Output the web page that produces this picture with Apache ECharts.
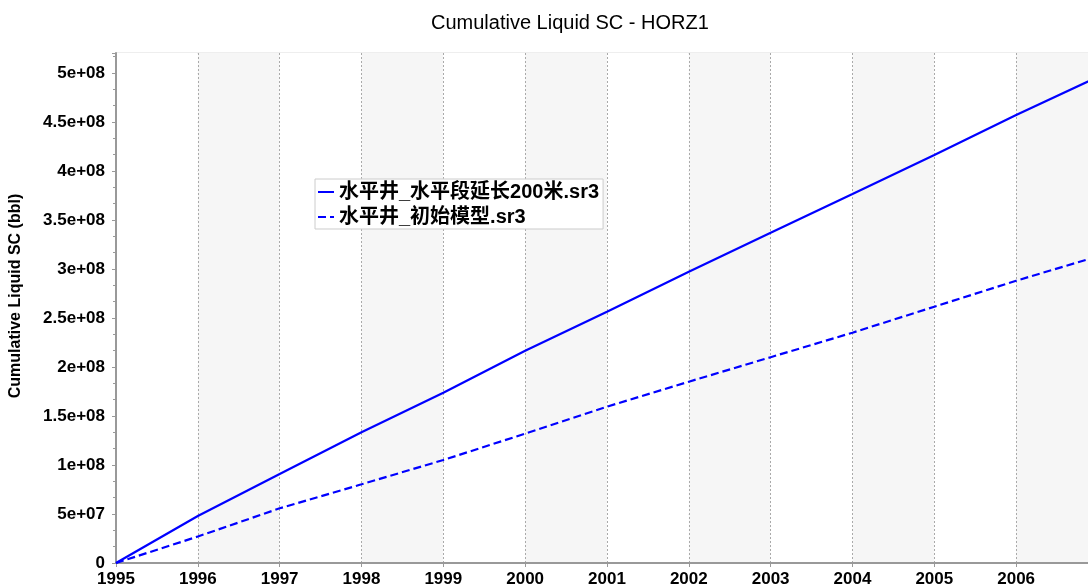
<!DOCTYPE html>
<html>
<head>
<meta charset="utf-8">
<script src="https://cdn.jsdelivr.net/npm/echarts@6/dist/echarts.min.js"></script>
<style>
html,body{margin:0;padding:0;background:#fff;}
#chart{width:1088px;height:588px;}
</style>
</head>
<body>
<div id="chart"></div>
<script>
const titleText = 'Cumulative Liquid SC - HORZ1';
const yAxisName = 'Cumulative Liquid SC (bbl)';
const seriesNames = ['水平井_水平段延长200米.sr3', '水平井_初始模型.sr3'];
const years = [1995, 1996, 1997, 1998, 1999, 2000, 2001, 2002, 2003, 2004, 2005, 2006, 2007];
const extended200m = [0, 4.8e7, 9.08e7, 1.334e8, 1.738e8, 2.166e8, 2.564e8, 2.973e8, 3.37e8, 3.765e8, 4.163e8, 4.571e8, 4.96e8];
const baseModel = [0, 2.7e7, 5.58e7, 8.03e7, 1.051e8, 1.32e8, 1.595e8, 1.85e8, 2.1e8, 2.35e8, 2.615e8, 2.88e8, 3.13e8];
const xMin = 1995, xMax = 2006.878, yMin = 0, yMax = 5.204e8, yStep = 5e7;

const chart = echarts.init(document.getElementById('chart'), null, {renderer: 'canvas'});
const font = 'Liberation Sans, Arial, Noto Sans CJK SC, sans-serif';

function fmtY(v) {
  if (v === 0) return '0';
  if (Math.abs(v / yStep - Math.round(v / yStep)) > 1e-6) return '';
  return v.toExponential().replace(/e([+-])(\d)$/, 'e$10$2');
}
function fmtX(v) {
  return Math.abs(v - Math.round(v)) < 1e-6 ? String(Math.round(v)) : '';
}

const hiddenSymbol = {color: 'rgba(0,0,0,0)', borderColor: 'rgba(0,0,0,0)', borderWidth: 0};

const option = {
  backgroundColor: '#ffffff',
  animation: false,
  title: {
    text: titleText,
    left: 426, top: 8,
    textStyle: {fontFamily: font, fontSize: 20, fontWeight: 'normal', color: '#000'}
  },
  grid: {left: 114, right: 0, top: 53, bottom: 25, show: true, borderColor: '#dddddd', borderWidth: 1, backgroundColor: 'transparent'},
  legend: {
    orient: 'vertical',
    left: 315, top: 179,
    backgroundColor: '#ffffff',
    borderColor: '#cccccc', borderWidth: 1,
    padding: [3, 4, 2, 2],
    itemWidth: 16, itemHeight: 14, itemGap: 5,
    itemStyle: hiddenSymbol,
    textStyle: {fontFamily: font, fontSize: 20, fontWeight: 'bold', color: '#000'},
    data: seriesNames
  },
  xAxis: {
    type: 'value', min: xMin, max: xMax, interval: 1,
    axisLine: {show: true, lineStyle: {color: '#999', width: 2}},
    axisTick: {show: true, length: 4, lineStyle: {color: '#999'}},
    axisLabel: {formatter: fmtX, fontFamily: font, fontSize: 17, fontWeight: 'bold', color: '#000', margin: 8, showMaxLabel: false},
    splitLine: {show: true, lineStyle: {color: '#aaaaaa', type: [2, 2], width: 1}},
    splitArea: {show: true, areaStyle: {color: ['#ffffff', '#f6f6f6']}}
  },
  yAxis: {
    type: 'value', min: yMin, max: yMax, interval: yStep,
    name: yAxisName, nameLocation: 'middle', nameGap: 92,
    nameTextStyle: {fontFamily: font, fontSize: 16, fontWeight: 'bold', color: '#000', padding: [0, 0, 0, 24]},
    axisLine: {show: true, lineStyle: {color: '#999', width: 2}},
    axisTick: {show: true, length: 4, lineStyle: {color: '#999'}},
    minorTick: {show: true, splitNumber: 3, length: 3, lineStyle: {color: '#999'}},
    axisLabel: {formatter: fmtY, fontFamily: font, fontSize: 17, fontWeight: 'bold', color: '#000', margin: 11, showMaxLabel: false},
    splitLine: {show: true, lineStyle: {color: '#aaaaaa', type: [2, 2], width: 1}}
  },
  graphic: [{
    type: 'text', left: 1042, top: 532, silent: true, z: 0,
    style: {text: 'CMG', fontFamily: 'DejaVu Serif, serif', fontSize: 24, fill: '#e4e4e4'}
  }],
  series: [
    {
      name: seriesNames[0], type: 'line', symbol: 'none', clip: true,
      lineStyle: {color: '#0000ff', width: 2.2, type: 'solid'},
      itemStyle: {color: '#0000ff'},
      data: years.map((y, i) => [y, extended200m[i]])
    },
    {
      name: seriesNames[1], type: 'line', symbol: 'none', clip: true,
      lineStyle: {color: '#0000ff', width: 2.2, type: [8, 4]},
      itemStyle: {color: '#0000ff'},
      data: years.map((y, i) => [y, baseModel[i]])
    }
  ]
};
chart.setOption(option);
</script>
</body>
</html>
